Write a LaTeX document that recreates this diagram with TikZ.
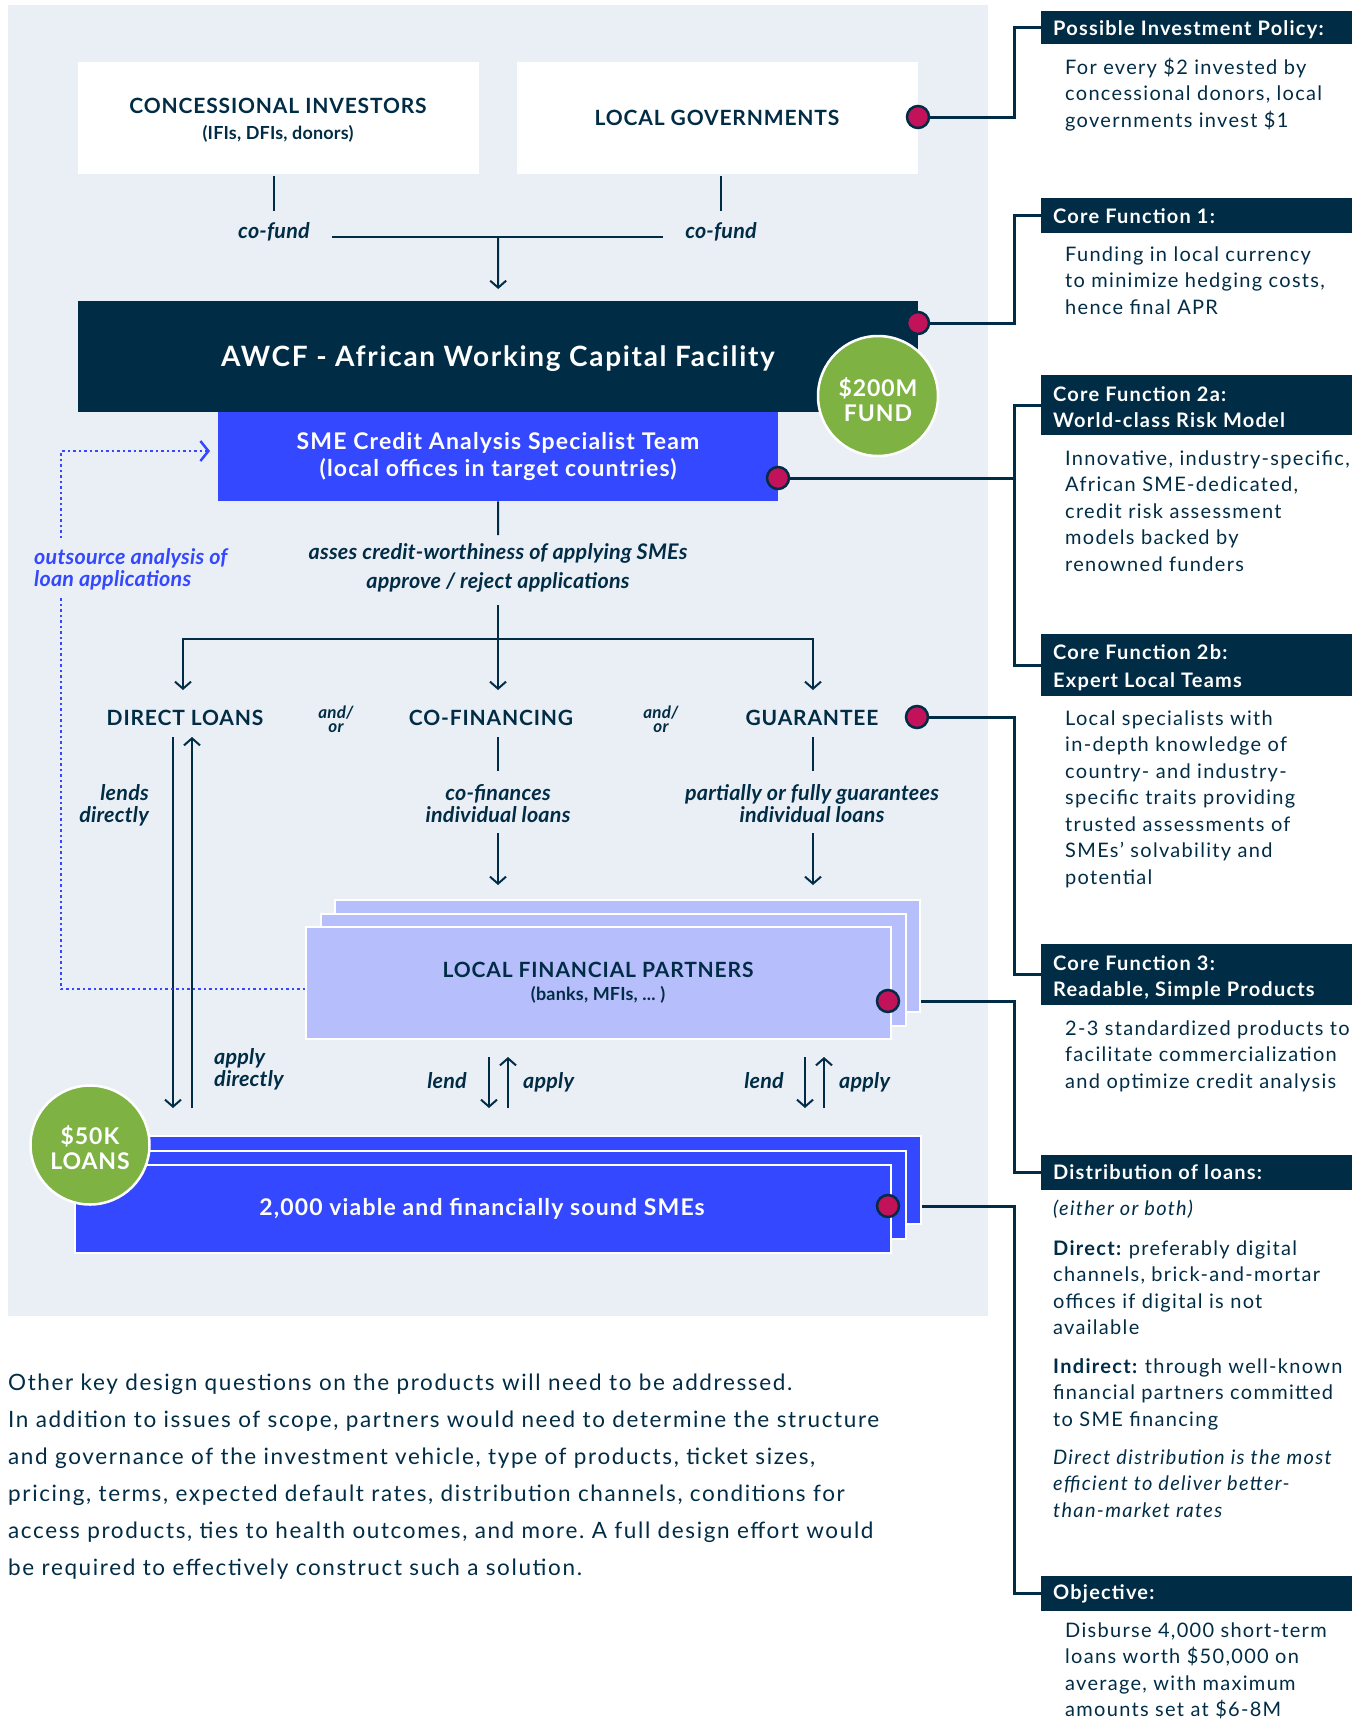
\documentclass[tikz,border=0pt]{standalone}
\usepackage{fontspec}
\setmainfont{Lato}
\newfontfamily\latoA{Lato}[LetterSpace=4]
\newfontfamily\latoB{Lato}[LetterSpace=6]
\newfontfamily\latoC{Lato}[LetterSpace=1]
\newfontfamily\latoD{Lato}[LetterSpace=5]
\newfontfamily\latoR{Lato}[LetterSpace=6.5]
\newfontfamily\latoH{Lato}[LetterSpace=6]
\newfontfamily\latoP{Lato}[LetterSpace=7.2]
\usetikzlibrary{arrows.meta,calc}
\definecolor{navy}{RGB}{1,44,69}
\definecolor{panel}{RGB}{234,239,246}
\definecolor{sblue}{RGB}{52,72,255}
\definecolor{peri}{RGB}{183,190,252}
\definecolor{fgreen}{RGB}{126,178,66}
\definecolor{mag}{RGB}{193,18,90}
\pgfdeclarelayer{bg}\pgfdeclarelayer{conn}\pgfsetlayers{bg,conn,main}
\frenchspacing
\begin{document}
\begin{tikzpicture}[x=1pt,y=-1pt,
  capt/.style={font=\latoA\bfseries\fontsize{21}{24}\selectfont, text=navy, inner sep=0pt, anchor=base},
  subt/.style={font=\latoC\bfseries\fontsize{18}{20}\selectfont, text=navy, inner sep=0pt, anchor=base},
  lab/.style={font=\latoC\bfseries\itshape\fontsize{21.5}{24}\selectfont, text=navy, inner sep=0pt, anchor=base},
  andor/.style={font=\latoC\bfseries\itshape\fontsize{17}{18}\selectfont, text=navy, inner sep=0pt, anchor=base},
  smet/.style={font=\latoD\bfseries\fontsize{23}{26}\selectfont, text=white, inner sep=0pt, anchor=base},
  gtxt/.style={font=\latoA\bfseries\fontsize{23}{26}\selectfont, text=white, inner sep=0pt, anchor=base},
  body/.style={font=\latoR\fontsize{20}{23}\selectfont, text=navy, inner sep=0pt, anchor=base west},
  hdt/.style={font=\latoH\bfseries\fontsize{20}{23}\selectfont, text=white, inner sep=0pt, anchor=base west},
  para/.style={font=\latoP\fontsize{22.5}{26}\selectfont, text=navy, inner sep=0pt, anchor=base west},
  hdr/.style={fill=navy, inner sep=0pt, anchor=north west, minimum width=311pt},
  wbox/.style={fill=white, inner sep=0pt, anchor=north west, minimum width=401pt, minimum height=112pt},
  lfpbox/.style={fill=peri, draw=white, line width=2pt, inner sep=0pt, anchor=north west, minimum width=585pt, minimum height=112pt},
  smebox/.style={fill=sblue, draw=white, line width=2pt, inner sep=0pt, anchor=north west, minimum width=816pt, minimum height=88pt},
  ln/.style={draw=navy, line width=2pt},
  arr/.style={ln, -{Straight Barb[length=7pt,width=16pt]}},
  brk/.style={draw=navy, line width=3pt},
  dotb/.style={draw=sblue, line width=2.5pt, dash pattern=on 2.5pt off 3pt},
  dot/.style={circle, fill=mag, draw=navy, line width=2.5pt, minimum size=22pt, inner sep=0pt},
  gcirc/.style={circle, fill=fgreen, draw=white, line width=2.5pt, minimum size=120pt, inner sep=0pt}]
\useasboundingbox (0,0) rectangle (1364,1719);
\begin{pgfonlayer}{bg}
\node[fill=panel, inner sep=0pt, anchor=north west, minimum width=980pt, minimum height=1311pt] (panel) at (8,5) {};
\end{pgfonlayer}

% top boxes
\node[wbox] (ci) at (78,62) {};
\node[wbox] (lg) at (517,62) {};
\node[capt] (ciT) at (278,113.5) {CONCESSIONAL INVESTORS};
\node[subt] (ciS) at (278,139) {(IFIs, DFIs, donors)};
\node[capt] (lgT) at (717,125.5) {LOCAL GOVERNMENTS};

% AWCF
\node[fill=navy, inner sep=0pt, anchor=north west, minimum width=840pt, minimum height=111pt] (awcf) at (78,301) {};
\node[font=\latoB\bfseries\fontsize{28}{32}\selectfont, text=white, inner sep=0pt, anchor=base] (awcfT) at (498,366) {AWCF - African Working Capital Facility};
\node[fill=sblue, inner sep=0pt, anchor=north west, minimum width=560pt, minimum height=89pt] (sme) at (218,412) {};
\node[smet] (smeT1) at (498,449) {SME Credit Analysis Specialist Team};
\node[smet] (smeT2) at (498,476) {(local offices in target countries)};
\node[gcirc] (fund) at (878,396) {};
\node[gtxt] (fundT1) at (878,396) {\$200M};
\node[gtxt] (fundT2) at (878,421) {FUND};

% labels
\node[lab] (cofL) at (274,238) {co-fund};
\node[lab] (cofR) at (721,238) {co-fund};
\node[lab] (ass1) at (498,559) {asses credit-worthiness of applying SMEs};
\node[lab] (ass2) at (498,588) {approve / reject applications};
\node[capt] (dl) at (185,725) {DIRECT LOANS};
\node[capt] (cf) at (491,725) {CO-FINANCING};
\node[capt] (gu) at (812,725) {GUARANTEE};
\node[andor] (ao1a) at (336,718) {and/};
\node[andor] (ao1b) at (336,732) {or};
\node[andor] (ao2a) at (661,718) {and/};
\node[andor] (ao2b) at (661,732) {or};
\node[lab, anchor=base east] (lends1) at (149,800) {lends};
\node[lab, anchor=base east] (lends2) at (149,822) {directly};
\node[lab] (cofin1) at (498,800) {co-finances};
\node[lab] (cofin2) at (498,822) {individual loans};
\node[lab] (guar1) at (812,800) {partially or fully guarantees};
\node[lab] (guar2) at (812,822) {individual loans};
\node[lab, text=sblue, anchor=base west] (out1) at (34,564) {outsource analysis of};
\node[lab, text=sblue, anchor=base west] (out2) at (34,586) {loan applications};

% local financial partners
\node[lfpbox] (lfp3) at (334,899) {};
\node[lfpbox] (lfp2) at (319.5,912.5) {};
\node[lfpbox] (lfp1) at (305,926) {};
\node[capt] (lfpT) at (598,977) {LOCAL FINANCIAL PARTNERS};
\node[subt] (lfpS) at (598,1000) {(banks, MFIs, ... )};

\node[lab, anchor=base west] (ap1) at (214,1064) {apply};
\node[lab, anchor=base west] (ap2) at (214,1086) {directly};
\node[lab, anchor=base east] (le1) at (467,1088) {lend};
\node[lab, anchor=base west] (ap3) at (523,1088) {apply};
\node[lab, anchor=base east] (le2) at (784,1088) {lend};
\node[lab, anchor=base west] (ap4) at (839,1088) {apply};

% SMEs
\node[smebox] (smes3) at (104,1135) {};
\node[smebox] (smes2) at (89,1149.5) {};
\node[smebox] (smes1) at (74,1164) {};
\node[smet] (smesT) at (482,1215) {2,000 viable and financially sound SMEs};
\node[gcirc, minimum size=119pt] (loans) at (90,1145) {};
\node[gtxt] (loansT1) at (90,1144) {\$50K};
\node[gtxt] (loansT2) at (90,1169) {LOANS};

% dots
\node[dot] (dLG) at (918,117) {};
\node[dot] (dAW) at (918,323) {};
\node[dot] (dSM) at (778,478) {};
\node[dot] (dGU) at (917,717) {};
\node[dot] (dLF) at (888,1001) {};
\node[dot] (dSE) at (888,1206) {};

% coordinates
\coordinate (bx) at (1014,0);
\coordinate (j1) at (498,237);
\coordinate (s1) at (498,535);
\coordinate (s2) at (498,605);
\coordinate (j2) at (498,639);
\coordinate (tDL) at (183,690);
\coordinate (tCF) at (498,690);
\coordinate (tGU) at (813,690);
\coordinate (dlA) at (173,737);
\coordinate (dlB) at (173,1108);
\coordinate (dlC) at (192,1108);
\coordinate (dlD) at (192,737);
\coordinate (cfA) at (498,737);
\coordinate (cfB) at (498,771);
\coordinate (cfC) at (498,833);
\coordinate (cfD) at (498,885);
\coordinate (guA) at (813,737);
\coordinate (guB) at (813,771);
\coordinate (guC) at (813,833);
\coordinate (guD) at (813,885);
\coordinate (l1a) at (489,1057);
\coordinate (l1b) at (489,1108);
\coordinate (a1a) at (508,1108);
\coordinate (a1b) at (508,1057);
\coordinate (l2a) at (805,1057);
\coordinate (l2b) at (805,1108);
\coordinate (a2a) at (824,1108);
\coordinate (a2b) at (824,1057);
\coordinate (o1) at (61,989);
\coordinate (o2) at (61,597);
\coordinate (o3) at (61,538);
\coordinate (o4) at (61,451);
\coordinate (o5) at (210,451);
\coordinate (hL) at (332,237);
\coordinate (hR) at (663,237);

\begin{pgfonlayer}{conn}
\draw[ln] ([yshift=-2pt]ci.south -| cofL.north) -- ([yshift=11pt]cofL.north);
\draw[ln] ([yshift=-2pt]lg.south -| cofR.north) -- ([yshift=11pt]cofR.north);
\draw[ln] (hL) -- (hR);
\draw[arr] (j1) -- ([yshift=12pt]awcf.north);
\draw[ln] (sme.south) -- (s1);
\draw[ln] (s2) -- (j2);
\draw[arr] (j2) -| (tDL);
\draw[arr] (j2) -| (tGU);
\draw[arr] (j2) -- (tCF);
\draw[arr] (dlA) -- (dlB);
\draw[arr] (dlC) -- (dlD);
\draw[ln] (cfA) -- (cfB);
\draw[arr] (cfC) -- (cfD);
\draw[ln] (guA) -- (guB);
\draw[arr] (guC) -- (guD);
\draw[arr] (l1a) -- (l1b);
\draw[arr] (a1a) -- (a1b);
\draw[arr] (l2a) -- (l2b);
\draw[arr] (a2a) -- (a2b);
\draw[dotb] (lfp1.west |- o1) -- (o1) -- (o2);
\draw[dotb, -{Straight Barb[length=8pt,width=20pt]}] (o3) -- (o4) -- (o5);
\end{pgfonlayer}

% right column
\node[hdr, minimum height=33pt] (h1) at (1041,11) {};
\node[hdt] (h1t) at (1053,35) {Possible Investment Policy:};
\foreach \t [count=\i] in {{For every \$2 invested by},{concessional donors, local},{governments invest \$1}}
  \node[body] (b1-\i) at (1065,{74+(\i-1)*26.5}) {\t};

\node[hdr, minimum height=35pt] (h2) at (1041,198) {};
\node[hdt] (h2t) at (1053,223) {Core Function 1:};
\foreach \t [count=\i] in {{Funding in local currency},{to minimize hedging costs,},{hence final APR}}
  \node[body] (b2-\i) at (1065,{261+(\i-1)*26.5}) {\t};

\node[hdr, minimum height=60pt] (h3) at (1041,375) {};
\node[hdt] (h3t) at (1053,401) {Core Function 2a:};
\node[hdt] (h3u) at (1053,427) {World-class Risk Model};
\foreach \t [count=\i] in {{Innovative, industry-specific,},{African SME-dedicated,},{credit risk assessment},{models backed by},{renowned funders}}
  \node[body] (b3-\i) at (1065,{465+(\i-1)*26.5}) {\t};

\node[hdr, minimum height=62pt] (h4) at (1041,634) {};
\node[hdt] (h4t) at (1053,659) {Core Function 2b:};
\node[hdt] (h4u) at (1053,687) {Expert Local Teams};
\foreach \t [count=\i] in {{Local specialists with},{in-depth knowledge of},{country- and industry-},{specific traits providing},{trusted assessments of},{SMEs’ solvability and},{potential}}
  \node[body] (b4-\i) at (1065,{725+(\i-1)*26.5}) {\t};

\node[hdr, minimum height=61pt] (h5) at (1041,944) {};
\node[hdt] (h5t) at (1053,970) {Core Function 3:};
\node[hdt] (h5u) at (1053,996) {Readable, Simple Products};
\foreach \t [count=\i] in {{2-3 standardized products to},{facilitate commercialization},{and optimize credit analysis}}
  \node[body] (b5-\i) at (1065,{1035+(\i-1)*26.5}) {\t};

\node[hdr, minimum height=35pt] (h6) at (1041,1155) {};
\node[hdt] (h6t) at (1053,1179) {Distribution of loans:};
\node[body] (b6-0) at (1053,1215) {\itshape (either or both)};
\foreach \t [count=\i] in {{\textbf{Direct:} preferably digital},{channels, brick-and-mortar},{offices if digital is not},{available}}
  \node[body] (b6a-\i) at (1053,{1255+(\i-1)*26.5}) {\t};
\foreach \t [count=\i] in {{\textbf{Indirect:} through well-known},{financial partners committed},{to SME financing}}
  \node[body] (b6b-\i) at (1053,{1373+(\i-1)*26.5}) {\t};
\foreach \t [count=\i] in {{Direct distribution is the most},{efficient to deliver better-},{than-market rates}}
  \node[body, font=\latoR\itshape\fontsize{20}{23}\selectfont] (b6c-\i) at (1053,{1464+(\i-1)*26.5}) {\t};

\node[hdr, minimum height=35pt] (h7) at (1041,1576) {};
\node[hdt] (h7t) at (1053,1599) {Objective:};
\foreach \t [count=\i] in {{Disburse 4,000 short-term},{loans worth \$50,000 on},{average, with maximum},{amounts set at \$6-8M}}
  \node[body] (b7-\i) at (1065,{1637+(\i-1)*26.5}) {\t};

\begin{pgfonlayer}{conn}
\draw[brk] (dLG.center) -- (dLG.center -| bx) |- (h1.west);
\draw[brk] (dAW.center) -- (dAW.center -| bx) |- (h2.west);
\draw[brk] (dSM.center) -- (dSM.center -| bx);
\draw[brk] (h3.west) -| (h4.west -| bx) -- (h4.west);
\draw[brk] (dGU.center) -- (dGU.center -| bx) |- (h5.west);
\draw[brk] (dLF.center) -- (dLF.center -| bx) |- (h6.west);
\draw[brk] (dSE.center) -- (dSE.center -| bx) |- (h7.west);
\end{pgfonlayer}

% bottom paragraph
\foreach \t [count=\i] in {{Other key design questions on the products will need to be addressed.},{In addition to issues of scope, partners would need to determine the structure},{and governance of the investment vehicle, type of products, ticket sizes,},{pricing, terms, expected default rates, distribution channels, conditions for},{access products, ties to health outcomes, and more. A full design effort would},{be required to effectively construct such a solution.}}
  \node[para] (p-\i) at (8,{1390+(\i-1)*37.1}) {\t};
\end{tikzpicture}
\end{document}
